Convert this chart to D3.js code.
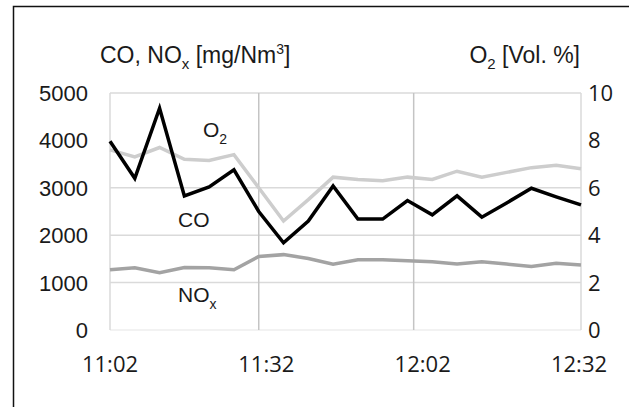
<!DOCTYPE html>
<html>
<head>
<meta charset="utf-8">
<script src="https://cdn.jsdelivr.net/npm/d3@7"></script>
<style>
  body { margin: 0; background: #fff; }
  text { font-family: "Liberation Sans", Arial, sans-serif; fill: #1a1a1a; }
</style>
</head>
<body>
<div id="chart"></div>
<script>
// sample index 0..19, roughly every 5 min from 11:02 to 12:32
let co  = [3980, 3200, 4680, 2830, 3020, 3380, 2500, 1840, 2300, 3040,
           2340, 2340, 2730, 2430, 2830, 2380, 2680, 2990, 2810, 2640];
let nox = [1270, 1315, 1210, 1320, 1315, 1270, 1550, 1590, 1510, 1390,
           1480, 1480, 1460, 1440, 1390, 1440, 1390, 1340, 1410, 1370];
let o2  = [7.6, 7.3, 7.7, 7.2, 7.15, 7.4, 6.0, 4.6, 5.5, 6.45,
           6.35, 6.3, 6.45, 6.35, 6.7, 6.45, 6.65, 6.85, 6.95, 6.8];

let timeLabels = ["11:02", "11:32", "12:02", "12:32"];
let timeMinutes = [0, 30, 60, 90];
let gridIndex = [6, 12.25];         // where the two inner vertical grid lines sit
let leftTicks = [0, 1000, 2000, 3000, 4000, 5000];
let leftGrid = [1000, 2000, 3000, 5000];
let rightTicks = [0, 2, 4, 6, 8, 10];

let width = 629, height = 407;
let x0 = 110, x1 = 581, yTop = 93, yBot = 330;

let svg = d3.select("#chart").append("svg")
  .attr("width", width).attr("height", height);

let xIdx = d3.scaleLinear().domain([0, co.length - 1]).range([x0, x1]);
let xTime = d3.scaleLinear().domain([0, 90]).range([x0, x1 - 2]);
let yLeft = d3.scaleLinear().domain([0, 5000]).range([yBot, yTop]);
let yRight = d3.scaleLinear().domain([0, 10]).range([yBot, yTop]);

// outer frame
svg.append("rect")
  .attr("x", 13.5).attr("y", 6.5)
  .attr("width", 700).attr("height", 500)
  .attr("fill", "none").attr("stroke", "#111").attr("stroke-width", 1.5);

// grid
svg.selectAll(".hgrid").data(leftGrid).enter().append("line")
  .attr("x1", x0).attr("x2", x1)
  .attr("y1", d => yLeft(d)).attr("y2", d => yLeft(d))
  .attr("stroke", "#dadada").attr("stroke-width", 1.5);

svg.append("line")
  .attr("x1", x0).attr("x2", x1).attr("y1", yBot).attr("y2", yBot)
  .attr("stroke", "#eeeeee").attr("stroke-width", 1.5);

svg.selectAll(".vgrid").data([0, co.length - 1]).enter().append("line")
  .attr("x1", d => xIdx(d)).attr("x2", d => xIdx(d))
  .attr("y1", yTop).attr("y2", yBot)
  .attr("stroke", "#dadada").attr("stroke-width", 1.5);

svg.selectAll(".vgrid2").data(gridIndex).enter().append("line")
  .attr("x1", d => xIdx(d)).attr("x2", d => xIdx(d))
  .attr("y1", yTop).attr("y2", yBot)
  .attr("stroke", "#c4c4c4").attr("stroke-width", 1.5);

// series
function drawLine(values, y, color, w) {
  svg.append("path")
    .datum(values)
    .attr("fill", "none")
    .attr("stroke", color)
    .attr("stroke-width", w)
    .attr("stroke-linejoin", "miter")
    .attr("d", d3.line().x((d, i) => xIdx(i)).y(d => y(d)));
}
drawLine(nox, yLeft, "#a3a3a3", 3.5);
drawLine(o2, yRight, "#cdcdcd", 3.5);
drawLine(co, yLeft, "#000", 3.5);

// axis labels
svg.selectAll(".lt").data(leftTicks).enter().append("text")
  .attr("x", 88).attr("y", d => yLeft(d) + 8)
  .attr("text-anchor", "end").attr("font-size", 22)
  .text(d => d);

svg.selectAll(".rt").data(rightTicks).enter().append("text")
  .attr("x", 588).attr("y", d => yRight(d) + 8)
  .attr("font-size", 22).style("font-family", "'Open Sans', sans-serif")
  .text(d => d);

svg.selectAll(".xt").data(timeMinutes).enter().append("text")
  .attr("x", d => xTime(d)).attr("y", 372)
  .attr("text-anchor", "middle").attr("font-size", 22)
  .style("font-family", "'Open Sans', sans-serif")
  .text((d, i) => timeLabels[i]);

// axis titles
let t1 = svg.append("text").attr("x", 100).attr("y", 63).attr("font-size", 23);
t1.append("tspan").text("CO, NO");
t1.append("tspan").attr("font-size", 15).attr("dy", 6).text("x");
t1.append("tspan").attr("dy", -6).text(" [mg/Nm");
t1.append("tspan").attr("font-size", 14).attr("dy", -9).text("3");
t1.append("tspan").attr("dy", 9).text("]");

let t2 = svg.append("text").attr("x", 580).attr("y", 63).attr("font-size", 23)
  .attr("text-anchor", "end");
t2.append("tspan").text("O");
t2.append("tspan").attr("font-size", 15).attr("dy", 6).text("2");
t2.append("tspan").attr("dy", -6).text(" [Vol. %]");

// series labels
function seriesLabel(x, y, main, sub) {
  let t = svg.append("text").attr("x", x).attr("y", y).attr("font-size", 21);
  t.append("tspan").text(main);
  if (sub) t.append("tspan").attr("font-size", 14).attr("dy", 7).text(sub);
}
seriesLabel(203, 137, "O", "2");
seriesLabel(178, 227, "CO");
seriesLabel(178, 302, "NO", "x");
</script>
</body>
</html>
